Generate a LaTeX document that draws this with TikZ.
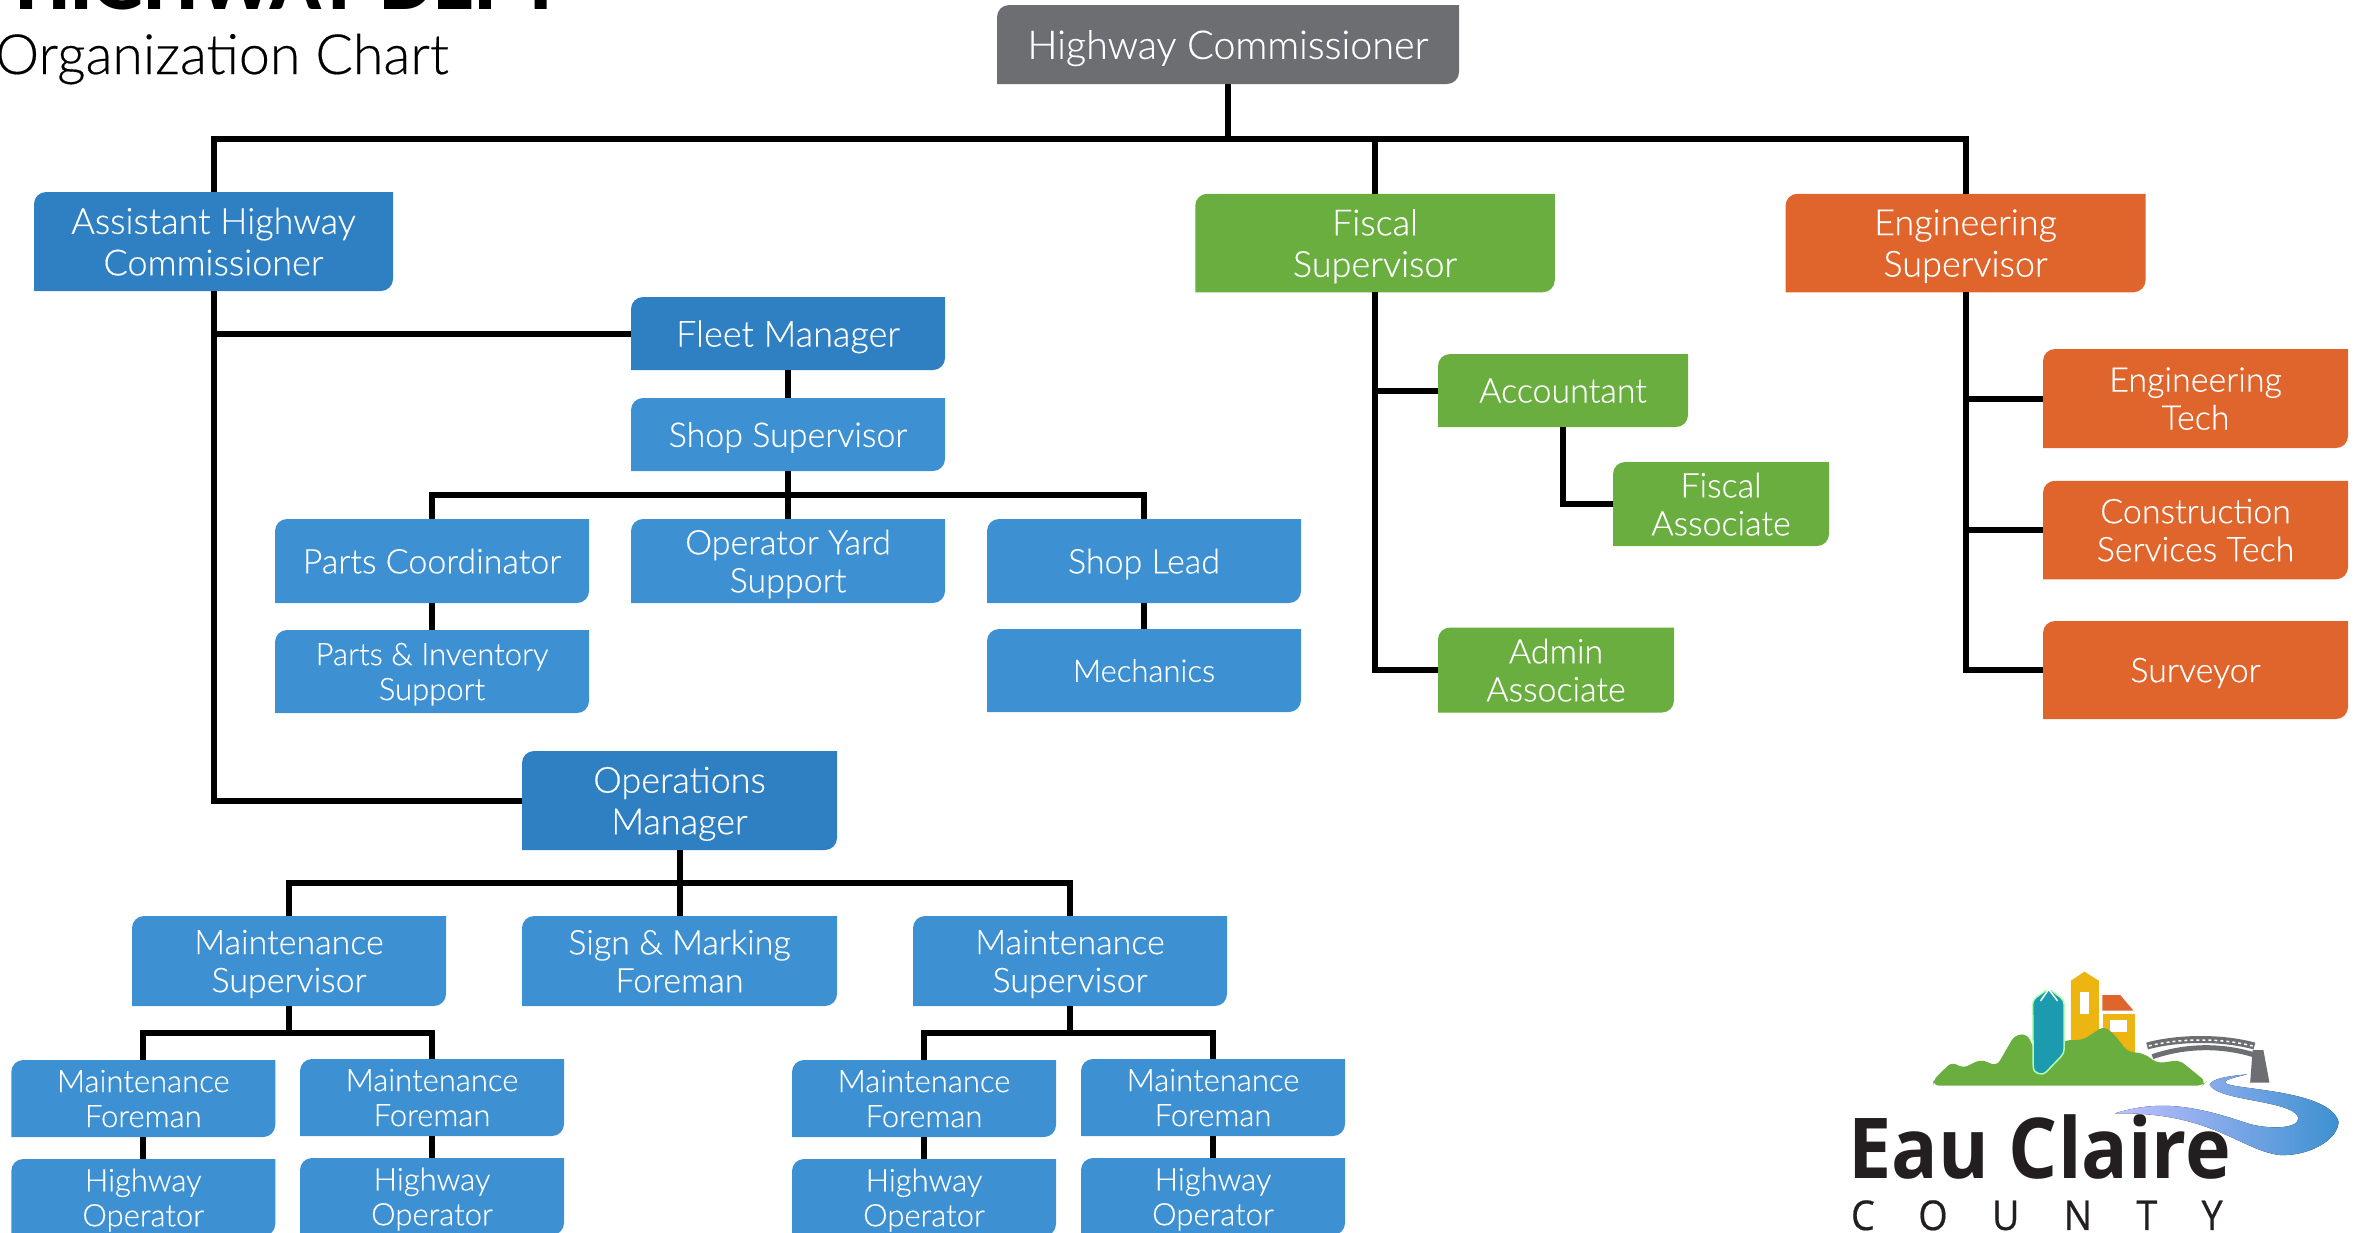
\documentclass[tikz,border=0pt]{standalone}
\usepackage{fontspec}
\setmainfont{Lato}[UprightFont=* Light,UprightFeatures={FakeBold=0.35},BoldFont=* Black]
\newfontfamily\logofont{Open Sans}[FakeStretch=0.92]
\definecolor{hcgray}{HTML}{6D6E71}
\definecolor{mgrblue}{HTML}{2E80C2}
\definecolor{staffblue}{HTML}{3D90D1}
\definecolor{fiscgreen}{HTML}{69AE3F}
\definecolor{engorange}{HTML}{E0652D}
\definecolor{silo}{HTML}{1C9AAE}
\definecolor{tower}{HTML}{EDB511}
\definecolor{logoink}{HTML}{231F20}
\tikzset{
	orgbox/.style={text=white,align=center,inner sep=0pt,text depth=0pt,
		path picture={\fill[#1] (path picture bounding box.south west) [rounded corners=12pt] -- (path picture bounding box.north west) [sharp corners] -- (path picture bounding box.north east) [rounded corners=12pt] -- (path picture bounding box.south east) [sharp corners] -- cycle;}},
	sz/.style 2 args={minimum width=#1 pt,minimum height=#2 pt},
	lvlh/.style={font=\fontsize{39.5}{44}\selectfont},
	lvla/.style={font=\fontsize{36}{41.5}\selectfont},
	lvlb/.style={font=\fontsize{34}{38}\selectfont},
	lvlc/.style={font=\fontsize{31}{35}\selectfont},
	link/.style={line width=6pt,draw=black}
}
\begin{document}
\begin{tikzpicture}[x=1pt,y=-1pt]
	\useasboundingbox (0,0) rectangle (2361,1232);
	\clip (0,0) rectangle (2361,1232);
	% title
	\node[anchor=base east,inner sep=0pt,font=\fontsize{71}{71}\selectfont\bfseries] (dept) at (563,9) {HIGHWAY DEPT};
	\node[anchor=base east,inner sep=0pt,font=\fontsize{55.5}{55.5}\selectfont] (chart) at (449,74) {Organization Chart};
	% top
	\node[orgbox=hcgray,sz={462}{79},lvlh] (hc) at (1228,44.5) {Highway Commissioner};
	\node[orgbox=mgrblue,sz={359}{99},lvla] (asst) at (213.5,241.5) {Assistant Highway\\Commissioner};
	\node[orgbox=fiscgreen,sz={359.5}{98.5},lvla] (fisc) at (1375,243) {Fiscal\\Supervisor};
	\node[orgbox=engorange,sz={360}{98.5},lvla] (eng) at (1965.5,243) {Engineering\\Supervisor};
	% fleet side
	\node[orgbox=mgrblue,sz={314}{73},lvla] (fleet) at (788,333.5) {Fleet Manager};
	\node[orgbox=staffblue,sz={314}{73},lvlb] (shop) at (788,434.5) {Shop Supervisor};
	\node[orgbox=staffblue,sz={314}{84},lvlb] (parts) at (432,561) {Parts Coordinator};
	\node[orgbox=staffblue,sz={314}{84},lvlb] (yard) at (788,561) {Operator Yard\\Support};
	\node[orgbox=staffblue,sz={314}{84},lvlb] (lead) at (1144,561) {Shop Lead};
	\node[orgbox=staffblue,sz={314}{83},lvlc] (inv) at (432,671.5) {Parts \& Inventory\\Support};
	\node[orgbox=staffblue,sz={314}{83},lvlc] (mech) at (1144,670.5) {Mechanics};
	% operations side
	\node[orgbox=mgrblue,sz={315}{99},lvla] (ops) at (679.5,800.5) {Operations\\Manager};
	\node[orgbox=staffblue,sz={314}{90},lvlb] (msupa) at (289,961) {Maintenance\\Supervisor};
	\node[orgbox=staffblue,sz={315}{90},lvlb] (sign) at (679.5,961) {Sign \& Marking\\Foreman};
	\node[orgbox=staffblue,sz={314}{90},lvlb] (msupb) at (1070,961) {Maintenance\\Supervisor};
	\foreach \n/\x/\yf/\yo in {a/143.25/1098.5/1197.5,b/432/1097.5/1196.5,c/924/1098.5/1197.5,d/1213/1097.5/1196.5}{
		\node[orgbox=staffblue,sz={264}{77},lvlc] (fore\n) at (\x,\yf) {Maintenance\\Foreman};
		\node[orgbox=staffblue,sz={264}{77},lvlc] (oper\n) at (\x,\yo) {Highway\\Operator};
		\draw[link] (fore\n.south)--(oper\n.north);
	}
	% fiscal side
	\node[orgbox=fiscgreen,sz={250}{73},lvlb] (acct) at (1563,390.5) {Accountant};
	\node[orgbox=fiscgreen,sz={216}{84},lvlb] (fassoc) at (1721,504) {Fiscal\\Associate};
	\node[orgbox=fiscgreen,sz={236}{85},lvlb] (admin) at (1556,670) {Admin\\Associate};
	% engineering side
	\node[orgbox=engorange,sz={305}{99},lvlb] (etech) at (2195.5,398.5) {Engineering\\Tech};
	\node[orgbox=engorange,sz={305}{98.5},lvlb] (cons) at (2195.5,530) {Construction\\Services Tech};
	\node[orgbox=engorange,sz={305}{98},lvlb] (surv) at (2195.5,670) {Surveyor};
	% bars
	\coordinate (topbar) at (1228,138.5);
	\coordinate (shopbar) at (788,495);
	\coordinate (opsbar) at (679.5,883);
	\coordinate (msabar) at (289,1033);
	\coordinate (msbbar) at (1070,1033);
	% connectors
	\draw[link] (hc.south)--(topbar);
	\draw[link] (asst.north) |- (topbar) -| (eng.north);
	\draw[link] (topbar) -| (fisc.north);
	\draw[link] (asst.south) |- (fleet.west);
	\draw[link] (asst.south) |- (ops.west);
	\draw[link] (fleet.south)--(shop.north);
	\draw[link] (shop.south)--(yard.north);
	\draw[link] (parts.north) |- (shopbar) -| (lead.north);
	\draw[link] (parts.south)--(inv.north);
	\draw[link] (lead.south)--(mech.north);
	\draw[link] (ops.south)--(sign.north);
	\draw[link] (msupa.north) |- (opsbar) -| (msupb.north);
	\draw[link] (msupa.south)--(msabar);
	\draw[link] (forea.north) |- (msabar) -| (foreb.north);
	\draw[link] (msupb.south)--(msbbar);
	\draw[link] (forec.north) |- (msbbar) -| (fored.north);
	\draw[link] (fisc.south) |- (acct.west);
	\draw[link] (fisc.south) |- (admin.west);
	\draw[link] (acct.south) |- (fassoc.west);
	\draw[link] (eng.south) |- (etech.west);
	\draw[link] (eng.south) |- (cons.west);
	\draw[link] (eng.south) |- (surv.west);
	% logo, in its own units
	\begin{scope}[shift={(1800,940)},x=0.3578pt,y=-0.3333pt]
		\fill[hcgray] (1265,330) -- (1295,330) -- (1312,428) -- (1258,428) -- cycle;
		\draw[hcgray,line width=7pt] (970,318) .. controls (1060,292) and (1180,292) .. (1270,318);
		\draw[hcgray,line width=5pt] (985,350) .. controls (1080,315) and (1180,315) .. (1270,345);
		\draw[white,line width=1.5pt,dash pattern=on 3pt off 3pt] (975,318) .. controls (1060,294) and (1180,294) .. (1265,318);
		\fill[tower] (757,122) -- (795,95) -- (835,122) -- (835,300) -- (757,300) -- cycle;
		\fill[white] (783,155) rectangle (808,222);
		\fill[tower] (848,222) rectangle (936,340);
		\fill[white] (865,240) rectangle (915,275);
		\fill[engorange] (845,165) -- (895,165) -- (932,212) -- (845,212) -- cycle;
		\fill[fiscgreen,rounded corners=6pt] (372,437) -- (372,420) -- (425,365) -- (455,385) -- (505,358) -- (550,378) -- (600,285) -- (635,282) -- (660,340) -- (745,300) -- (790,300) -- (850,258) -- (880,285) -- (915,335) -- (960,340) -- (1000,370) -- (1060,360) -- (1135,425) -- (1125,437) -- cycle;
		\filldraw[fill=silo,draw=green!30!white,line width=1.5pt,rounded corners=4pt] (650,180) -- (695,145) -- (738,180) -- (738,340) -- (680,405) -- (652,395) -- cycle;
		\draw[white,line width=1.5pt] (672,183) -- (695,148) -- (720,183);
		\fill[left color=blue!25!white,right color=staffblue] (880,520) .. controls (1000,480) and (1100,495) .. (1250,550) .. controls (1330,575) and (1420,560) .. (1385,520) .. controls (1340,480) and (1170,480) .. (1145,435) .. controls (1150,415) and (1200,408) .. (1250,403) .. controls (1215,412) and (1180,420) .. (1190,430) .. controls (1220,450) and (1480,450) .. (1505,545) .. controls (1505,600) and (1420,650) .. (1340,645) .. controls (1230,630) and (1150,515) .. (880,520) -- cycle;
		\node[anchor=base west,inner sep=0pt,text=logoink,font=\logofont\bfseries\fontsize{84}{84}\selectfont] (eau) at (134,715) {Eau Claire};
		\node[anchor=base west,inner sep=0pt,text=logoink,font=\logofont\fontsize{41}{41}\selectfont\addfontfeature{LetterSpace=108,FakeBold=0.5}] (cty) at (142,870) {COUNTY};
	\end{scope}
\end{tikzpicture}
\end{document}
